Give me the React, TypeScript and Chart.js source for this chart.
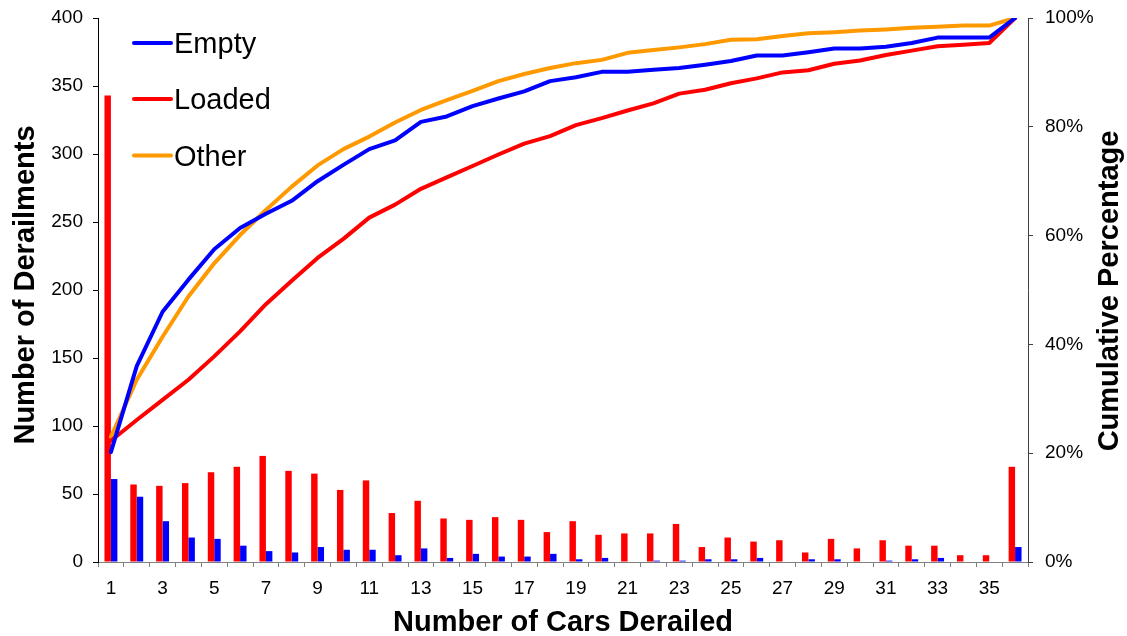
import React, { useEffect, useRef } from "react";
import { Chart, registerables } from "chart.js";

Chart.register(...registerables);

const categories = [
  "1", "2", "3", "4", "5", "6", "7", "8", "9", "10", "11", "12",
  "13", "14", "15", "16", "17", "18", "19", "20", "21", "22", "23", "24",
  "25", "26", "27", "28", "29", "30", "31", "32", "33", "34", "35", "36",
];

const loadedCounts = [
  343, 57, 56, 58, 66, 70, 78, 67, 65, 53, 60, 36,
  45, 32, 31, 33, 31, 22, 30, 20, 21, 21, 28, 11,
  18, 15, 16, 7, 17, 10, 16, 12, 12, 5, 5, 70,
];

const emptyCounts = [
  61, 48, 30, 18, 17, 12, 8, 7, 11, 9, 9, 5,
  10, 3, 6, 4, 4, 6, 2, 3, 0, 1, 1, 2,
  2, 3, 0, 2, 2, 0, 1, 2, 3, 0, 0, 11,
];

const emptyCumPct = [
  20.2, 36.0, 46.0, 51.9, 57.5, 61.4, 64.0, 66.4, 70.0, 73.0, 75.9, 77.5,
  80.9, 81.9, 83.8, 85.2, 86.5, 88.4, 89.1, 90.1, 90.1, 90.5, 90.8, 91.4,
  92.1, 93.1, 93.1, 93.7, 94.4, 94.4, 94.7, 95.4, 96.4, 96.4, 96.4, 100,
];

const loadedCumPct = [
  22.3, 26.1, 29.8, 33.5, 37.8, 42.4, 47.4, 51.7, 55.9, 59.4, 63.3, 65.7,
  68.6, 70.7, 72.8, 74.9, 76.9, 78.3, 80.3, 81.6, 83.0, 84.3, 86.1, 86.8,
  88.0, 88.9, 90.0, 90.4, 91.6, 92.2, 93.2, 94.0, 94.8, 95.1, 95.4, 100,
];

const otherCumPct = [
  23.0, 33.5, 41.4, 48.8, 54.9, 60.1, 64.7, 69.0, 72.9, 75.9, 78.2, 80.8,
  83.1, 84.9, 86.6, 88.4, 89.7, 90.8, 91.7, 92.3, 93.6, 94.1, 94.6, 95.2,
  96.0, 96.1, 96.7, 97.2, 97.4, 97.7, 97.9, 98.2, 98.4, 98.6, 98.6, 100,
];

const lineLabels = ["Empty", "Loaded", "Other"];
const xTitle = "Number of Cars Derailed";
const yTitle = "Number of Derailments";
const y1Title = "Cumulative Percentage";

const FONT = "'Liberation Sans', Arial, Helvetica, sans-serif";
const BLUE = "#0000FF";
const RED = "#FF0000";
const ORANGE = "#FF9900";

const overlayPlugin = {
  id: "overlay",
  afterDraw(chart: any) {
    const ctx = chart.ctx as CanvasRenderingContext2D;
    const a = chart.chartArea;
    ctx.save();
    ctx.fillStyle = "#000";
    ctx.font = `bold 29px ${FONT}`;
    ctx.textAlign = "center";
    ctx.textBaseline = "alphabetic";
    ctx.fillText(xTitle, (a.left + a.right) / 2, 631);

    ctx.save();
    ctx.translate(34, 285);
    ctx.rotate(-Math.PI / 2);
    ctx.fillText(yTitle, 0, 0);
    ctx.restore();

    ctx.save();
    ctx.translate(1118, 291);
    ctx.rotate(-Math.PI / 2);
    ctx.fillText(y1Title, 0, 0);
    ctx.restore();

    const rowsY = [43, 99, 155.5];
    const lines = chart.data.datasets.filter((d: any) => d.type === "line");
    ctx.font = `29px ${FONT}`;
    ctx.textAlign = "left";
    lines.forEach((d: any, i: number) => {
      const y = rowsY[i];
      ctx.strokeStyle = d.borderColor;
      ctx.lineWidth = 4;
      ctx.lineCap = "round";
      ctx.beginPath();
      ctx.moveTo(134, y);
      ctx.lineTo(171, y);
      ctx.stroke();
      ctx.fillText(d.label, 174, y + 0.358 * 29);
    });
    ctx.restore();
  },
};

export default function App() {
  const ref = useRef<HTMLCanvasElement | null>(null);

  useEffect(() => {
    if (!ref.current) return;
    const lineCommon = {
      type: "line" as const,
      yAxisID: "y1",
      borderWidth: 4,
      pointRadius: 0,
      pointHoverRadius: 0,
      tension: 0,
      fill: false,
      borderJoinStyle: "round" as const,
      borderCapStyle: "round" as const,
      order: 0,
    };
    const chart = new Chart(ref.current, {
      type: "bar",
      data: {
        labels: categories,
        datasets: [
          { ...lineCommon, label: lineLabels[0], data: emptyCumPct, borderColor: BLUE, backgroundColor: BLUE },
          { ...lineCommon, label: lineLabels[1], data: loadedCumPct, borderColor: RED, backgroundColor: RED },
          { ...lineCommon, label: lineLabels[2], data: otherCumPct, borderColor: ORANGE, backgroundColor: ORANGE },
          {
            type: "bar",
            label: "Loaded",
            data: loadedCounts,
            backgroundColor: RED,
            borderWidth: 0,
            yAxisID: "y",
            categoryPercentage: 0.5,
            barPercentage: 1.0,
            order: 1,
          },
          {
            type: "bar",
            label: "Empty",
            data: emptyCounts,
            backgroundColor: BLUE,
            borderWidth: 0,
            yAxisID: "y",
            categoryPercentage: 0.5,
            barPercentage: 1.0,
            order: 1,
          },
        ] as any,
      },
      options: {
        responsive: false,
        animation: false,
        devicePixelRatio: 1,
        layout: { padding: { top: 18, left: 0, right: 0, bottom: 0 } },
        plugins: {
          legend: { display: false },
          tooltip: { enabled: false },
          title: { display: false },
        },
        scales: {
          x: {
            type: "category",
            offset: true,
            grid: {
              display: true,
              drawOnChartArea: false,
              drawTicks: true,
              tickLength: 5,
              color: "#808080",
              offset: true,
            },
            border: { display: true, color: "#808080", width: 1 },
            ticks: {
              autoSkip: false,
              maxRotation: 0,
              minRotation: 0,
              padding: 10,
              color: "#000",
              font: { family: FONT, size: 19 },
              callback: (_v: any, i: number) => (i % 2 === 0 ? categories[i] : ""),
            },
            afterFit: (s: any) => {
              s.height = 74;
              s.paddingLeft = 0;
              s.paddingRight = 0;
            },
          },
          y: {
            position: "left",
            min: 0,
            max: 400,
            ticks: {
              stepSize: 50,
              padding: 10,
              color: "#000",
              font: { family: FONT, size: 19 },
            },
            grid: { drawOnChartArea: false, drawTicks: true, tickLength: 5, color: "#000" },
            border: { display: true, color: "#000", width: 1 },
            afterFit: (s: any) => {
              s.width = 98;
              s.paddingTop = 0;
              s.paddingBottom = 0;
            },
          },
          y1: {
            position: "right",
            min: 0,
            max: 100,
            ticks: {
              stepSize: 20,
              padding: 12,
              color: "#000",
              font: { family: FONT, size: 19 },
              callback: (v: any) => `${v}%`,
            },
            grid: { drawOnChartArea: false, drawTicks: true, tickLength: 5, color: "#404040" },
            border: { display: true, color: "#404040", width: 1 },
            afterFit: (s: any) => {
              s.width = 99;
              s.paddingTop = 0;
              s.paddingBottom = 0;
            },
          },
        },
      } as any,
      plugins: [overlayPlugin],
    });
    return () => chart.destroy();
  }, []);

  return (
    <div style={{ position: "absolute", left: 0, top: 0, width: 1127, height: 636, background: "#fff" }}>
      <canvas ref={ref} width={1127} height={636} style={{ width: 1127, height: 636, display: "block" }} />
    </div>
  );
}
